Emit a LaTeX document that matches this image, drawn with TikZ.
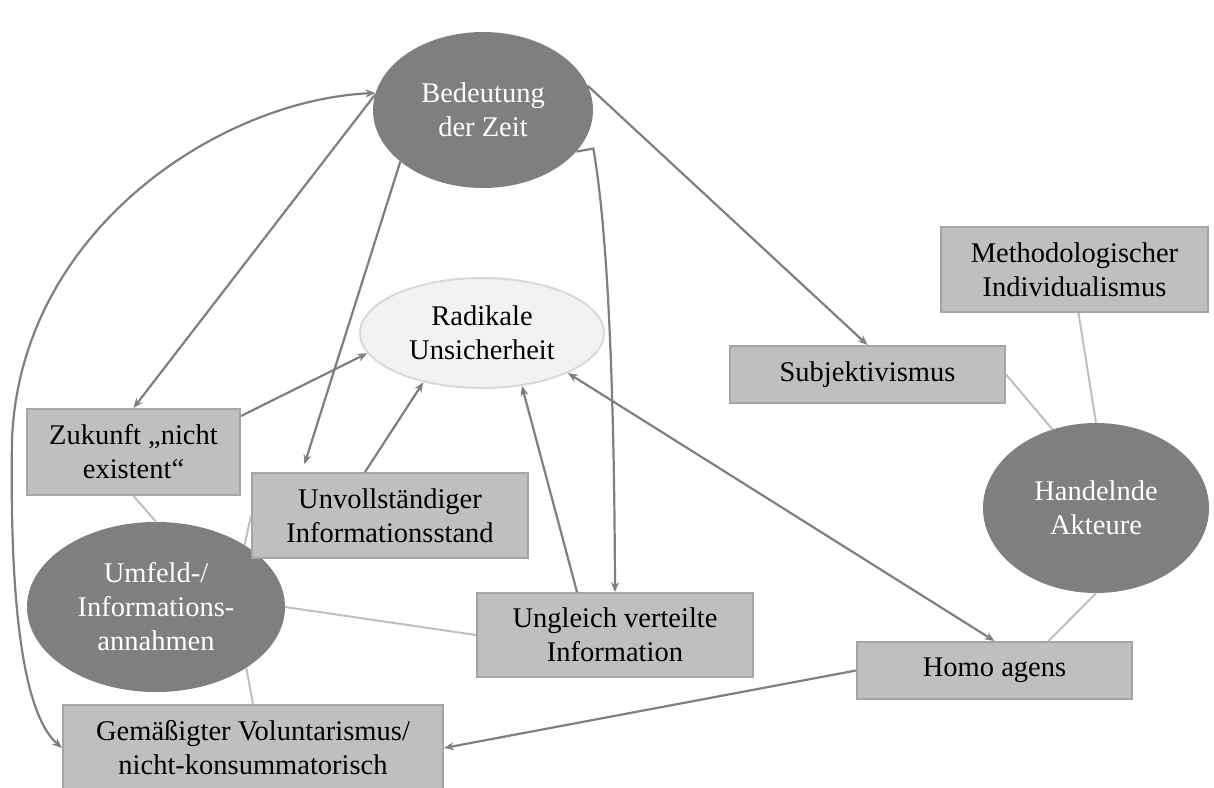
\documentclass[tikz,border=0pt]{standalone}
\usepackage{fontspec}
\setmainfont{Liberation Serif}
\usetikzlibrary{arrows.meta,shapes.geometric}
\definecolor{darkfill}{HTML}{7F7F7F}
\definecolor{boxfill}{HTML}{BFBFBF}
\definecolor{boxline}{HTML}{A5A5A5}
\definecolor{softfill}{HTML}{F2F2F2}
\definecolor{softline}{HTML}{D9D9D9}
\definecolor{arrowgray}{HTML}{7F7F7F}
\definecolor{linkgray}{HTML}{BFBFBF}

\begin{document}
\begin{tikzpicture}[x=1pt,y=-1pt,
  every node/.style={font=\fontsize{28.5}{34}\selectfont, align=center, inner sep=0pt},
  darkell/.style={ellipse, fill=darkfill, text=white},
  softell/.style={ellipse, fill=softfill, draw=softline, line width=2pt},
  infobox/.style={rectangle, fill=boxfill, draw=boxline, line width=2pt},
  tipshape/.style={},
  relarrow/.style={draw=arrowgray, line width=2.2pt, -{Stealth[length=10pt,width=8pt]}},
  relboth/.style={draw=arrowgray, line width=2.2pt, {Stealth[length=10pt,width=8pt]}-{Stealth[length=10pt,width=8pt]}},
  link/.style={draw=linkgray, line width=2pt}
]
\useasboundingbox (0,0) rectangle (1214,787);

% ellipses
\node[darkell, minimum width=220pt, minimum height=156pt] (bed) at (483,110) {Bedeutung\\der Zeit};
\node[softell, minimum width=244pt, minimum height=110pt] (rad) at (482,333) {Radikale\\Unsicherheit};
\node[darkell, minimum width=226pt, minimum height=170pt] (han) at (1096,508) {Handelnde\\Akteure};
\node[darkell, minimum width=258pt, minimum height=170pt] (umf) at (156,607) {Umfeld-/\\Informations-\\annahmen};

% boxes
\node[infobox, minimum width=213pt, minimum height=86pt] (zuk) at (133.5,452) {Zukunft „nicht\\existent“};
\node[infobox, minimum width=276pt, minimum height=85pt] (unv) at (390,515.5) {Unvollständiger\\Informationsstand};
\node[infobox, minimum width=276pt, minimum height=84pt] (ung) at (615,635) {Ungleich verteilte\\Information};
\node[infobox, minimum width=380pt, minimum height=86pt] (gem) at (253,748) {Gemäßigter Voluntarismus/\\nicht-konsummatorisch};
\node[infobox, minimum width=275pt, minimum height=57pt] (hom) at (994.5,670.5) {Homo agens};
\node[infobox, minimum width=275pt, minimum height=57pt] (sub) at (867.5,374.5) {Subjektivismus};
\node[infobox, minimum width=267pt, minimum height=85pt] (met) at (1074.5,269.5) {Methodologischer\\Individualismus};

% directed relations
\draw[relarrow] (bed.172) -- (zuk.north);
\draw[relboth] (bed.171) .. controls (220,100) and (20,230) .. (12,440)
               .. controls (9,640) and (30,720) .. (gem.west);
\draw[relarrow, shorten >=8pt] (bed.212) -- ([xshift=51pt]unv.north west);
\draw[relarrow] (bed.336) -- ++(17,-3) .. controls (604,210) and (614,330) .. (ung.north);
\draw[relarrow] (bed.13) -- (sub.north);
\draw[relarrow] ([yshift=-8pt]zuk.north east) -- (rad.190);
\draw[relarrow] ([xshift=-25pt]unv.north) -- (rad.220);
\draw[relarrow] ([xshift=-38pt]ung.north) -- (rad.307);
\draw[relboth] (hom.north) -- (rad.335);
\draw[relarrow] (hom.west) -- (gem.east);

% plain links
\draw[link] (zuk.south) -- (umf.north);
\draw[link] (unv.west) -- (umf.35);
\draw[link] (umf.east) -- (ung.west);
\draw[link] (umf.326) -- (gem.north);
\draw[link] (sub.east) -- (han.119);
\draw[link] ([xshift=4pt]met.south) -- (han.north);
\draw[link] (han.south) -- ([xshift=54pt]hom.north);
\end{tikzpicture}
\end{document}
